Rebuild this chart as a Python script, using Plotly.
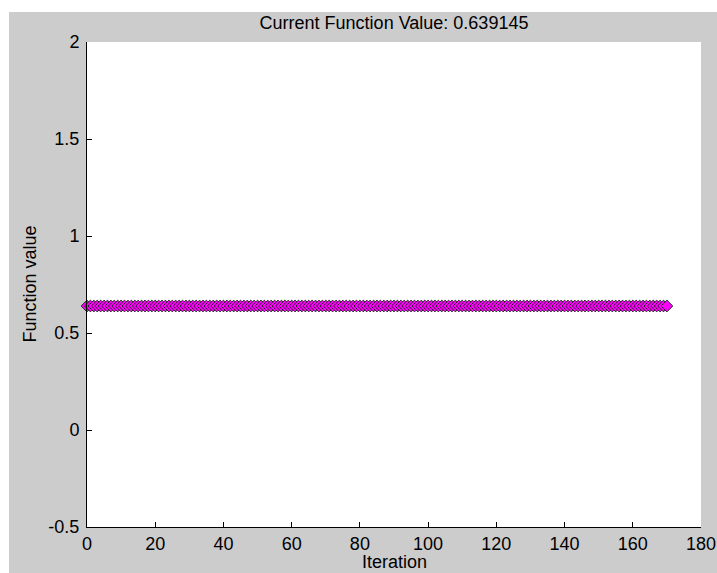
import plotly.graph_objects as go

# ---- data ----
iterations = list(range(0, 171))
fval = [
    0.639145, 0.639145, 0.639145, 0.639145, 0.639145, 0.639145, 0.639145, 0.639145, 0.639145, 0.639145, 0.639145, 0.639145, 0.639145, 0.639145, 0.639145, 0.639145, 0.639145, 0.639145, 0.639145,
    0.639145, 0.639145, 0.639145, 0.639145, 0.639145, 0.639145, 0.639145, 0.639145, 0.639145, 0.639145, 0.639145, 0.639145, 0.639145, 0.639145, 0.639145, 0.639145, 0.639145, 0.639145, 0.639145,
    0.639145, 0.639145, 0.639145, 0.639145, 0.639145, 0.639145, 0.639145, 0.639145, 0.639145, 0.639145, 0.639145, 0.639145, 0.639145, 0.639145, 0.639145, 0.639145, 0.639145, 0.639145, 0.639145,
    0.639145, 0.639145, 0.639145, 0.639145, 0.639145, 0.639145, 0.639145, 0.639145, 0.639145, 0.639145, 0.639145, 0.639145, 0.639145, 0.639145, 0.639145, 0.639145, 0.639145, 0.639145, 0.639145,
    0.639145, 0.639145, 0.639145, 0.639145, 0.639145, 0.639145, 0.639145, 0.639145, 0.639145, 0.639145, 0.639145, 0.639145, 0.639145, 0.639145, 0.639145, 0.639145, 0.639145, 0.639145, 0.639145,
    0.639145, 0.639145, 0.639145, 0.639145, 0.639145, 0.639145, 0.639145, 0.639145, 0.639145, 0.639145, 0.639145, 0.639145, 0.639145, 0.639145, 0.639145, 0.639145, 0.639145, 0.639145, 0.639145,
    0.639145, 0.639145, 0.639145, 0.639145, 0.639145, 0.639145, 0.639145, 0.639145, 0.639145, 0.639145, 0.639145, 0.639145, 0.639145, 0.639145, 0.639145, 0.639145, 0.639145, 0.639145, 0.639145,
    0.639145, 0.639145, 0.639145, 0.639145, 0.639145, 0.639145, 0.639145, 0.639145, 0.639145, 0.639145, 0.639145, 0.639145, 0.639145, 0.639145, 0.639145, 0.639145, 0.639145, 0.639145, 0.639145,
    0.639145, 0.639145, 0.639145, 0.639145, 0.639145, 0.639145, 0.639145, 0.639145, 0.639145, 0.639145, 0.639145, 0.639145, 0.639145, 0.639145, 0.639145, 0.639145, 0.639145, 0.639145, 0.639145,
]
current_value = 0.639145
x_ticks = [0, 20, 40, 60, 80, 100, 120, 140, 160, 180]
y_ticks = [-0.5, 0, 0.5, 1, 1.5, 2]
y_tick_labels = ["-0.5", "0", "0.5", "1", "1.5", "2"]

W, H = 717, 573
L, R, T, B = 87, 16, 42, 46
plot_w = W - L - R
plot_h = H - T - B

FONT = "Liberation Sans, Arial, sans-serif"
GRAY = "#cccccc"

fig = go.Figure()
fig.add_trace(go.Scatter(
    x=iterations, y=fval, mode="markers",
    marker=dict(symbol="diamond", size=9, color="#ff00ff",
                line=dict(color="#222222", width=1)),
    cliponaxis=False, showlegend=False,
))


def px_x(p):
    return (p - L) / plot_w


def px_y(p):
    return (H - B - p) / plot_h


fig.update_layout(
    width=W, height=H,
    margin=dict(l=L, r=R, t=T, b=B, autoexpand=False),
    paper_bgcolor=GRAY, plot_bgcolor="white",
    font=dict(family=FONT, size=18, color="black"),
    title=dict(text=f"Current Function Value: {current_value}",
               x=0.5, xref="paper", xanchor="center",
               y=1 - 22.5 / H, yref="container", yanchor="middle",
               font=dict(family=FONT, size=18, color="black")),
    xaxis=dict(range=[0, 180], tickvals=x_ticks, ticks="inside", ticklen=5,
               tickcolor="black", showline=True, linecolor="black", linewidth=1,
               showgrid=False, zeroline=False, ticklabelstandoff=0,
               automargin=False,
               tickfont=dict(family=FONT, size=18, color="black")),
    yaxis=dict(range=[-0.5, 2], tickvals=y_ticks, ticktext=y_tick_labels,
               ticks="inside", ticklen=5,
               tickcolor="black", showline=True, linecolor="black", linewidth=1,
               showgrid=False, zeroline=False, ticklabelstandoff=3,
               automargin=False,
               tickfont=dict(family=FONT, size=18, color="black")),
    shapes=[
        dict(type="rect", xref="paper", yref="paper",
             x0=px_x(0), x1=px_x(W), y0=px_y(12), y1=px_y(-2),
             fillcolor="white", line=dict(width=0), layer="below"),
        dict(type="rect", xref="paper", yref="paper",
             x0=px_x(-2), x1=px_x(9), y0=px_y(H + 2), y1=px_y(-2),
             fillcolor="white", line=dict(width=0), layer="below"),
    ],
    annotations=[
        dict(text="Function value", xref="paper", yref="paper",
             x=px_x(29), y=0.5, xanchor="center", yanchor="middle",
             textangle=-90, showarrow=False,
             font=dict(family=FONT, size=18, color="black")),
        dict(text="Iteration", xref="paper", yref="paper",
             x=0.5, y=px_y(562), xanchor="center", yanchor="middle",
             showarrow=False,
             font=dict(family=FONT, size=18, color="black")),
    ],
)

fig.write_html("out.html")
